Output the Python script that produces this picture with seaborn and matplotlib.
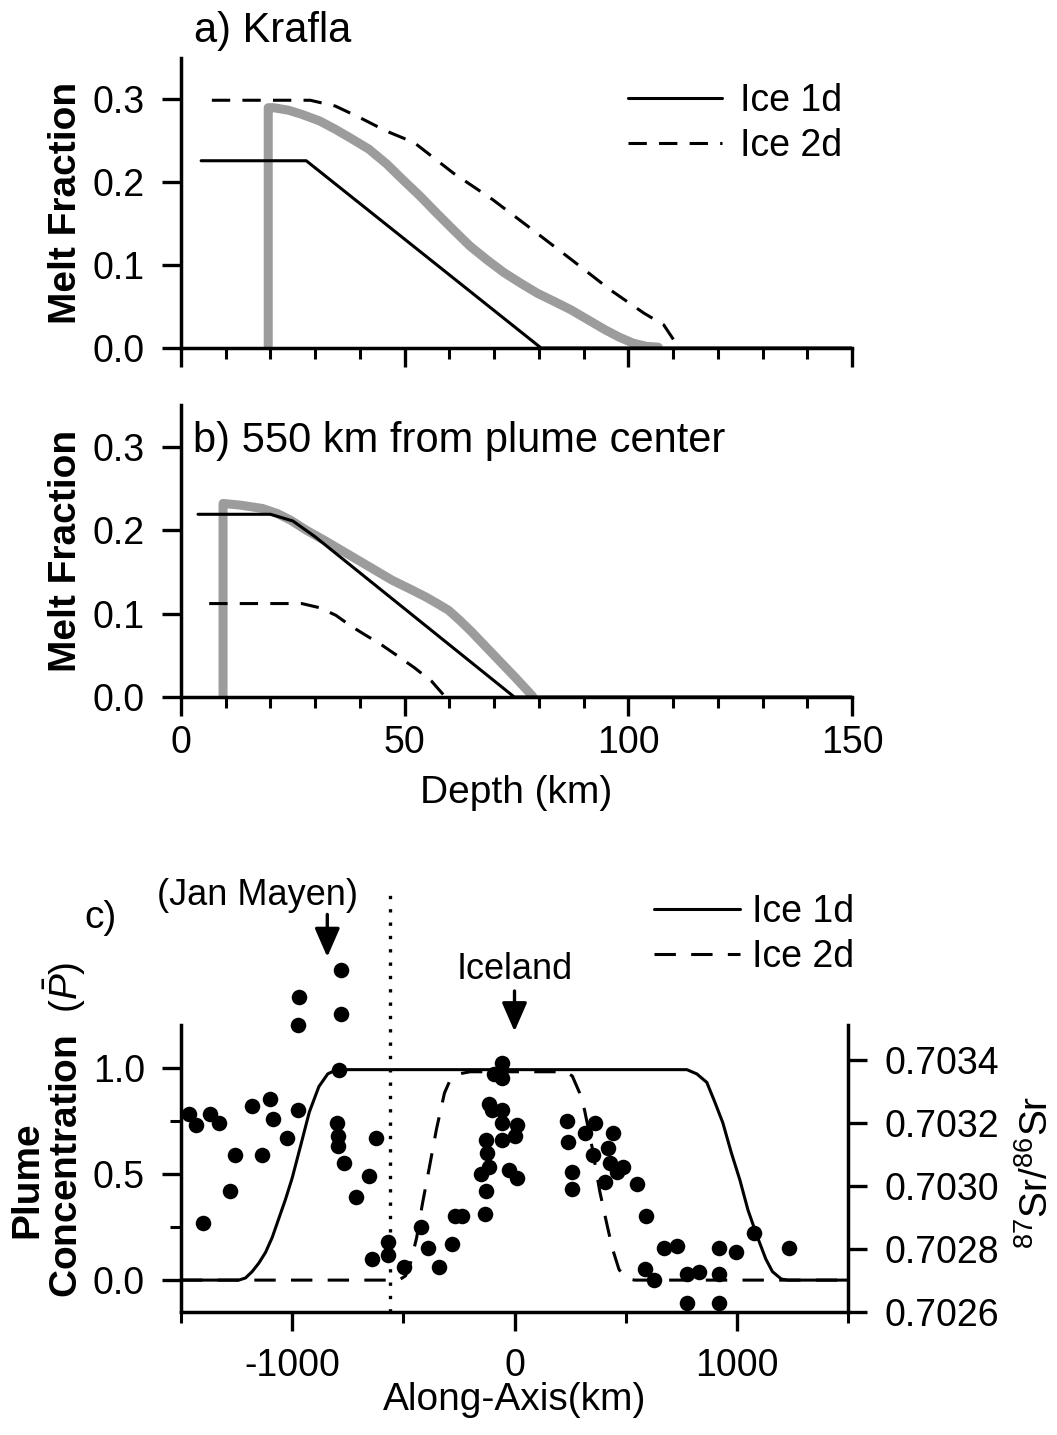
import numpy as np
import pandas as pd
import matplotlib
matplotlib.use("Agg")
import matplotlib.pyplot as plt
import seaborn as sns
from matplotlib.ticker import MultipleLocator, FixedLocator, FormatStrFormatter

# ---------------- data ----------------
# Panel a) Krafla : melt fraction vs depth (km)
a_ice1d_depth = [4.5, 28.0, 80.5, 150.0]
a_ice1d_melt = [0.226, 0.226, 0.0, 0.0]
a_ice2d_depth = [6.9, 28.9, 34.5, 40.0, 45.8, 52.1, 60.9, 69.7, 78.5, 87.2, 96.0, 103.5, 107.9, 111.1]
a_ice2d_melt = [0.299, 0.299, 0.292, 0.278, 0.262, 0.248, 0.211, 0.179, 0.143, 0.107, 0.070, 0.042, 0.028, 0.002]
a_gray_depth = [19.5, 19.5, 20.7, 24.0, 27.0, 31.0, 34.5, 38.0, 42.0, 46.0, 49.6, 53.5, 57.1, 61.0,
                64.6, 68.5, 72.2, 76.0, 79.7, 83.5, 87.2, 91.0, 94.8, 98.0, 101.0, 104.0, 106.7]
a_gray_melt = [0.0, 0.290, 0.290, 0.287, 0.282, 0.274, 0.264, 0.253, 0.240, 0.222, 0.203, 0.183,
               0.163, 0.142, 0.123, 0.106, 0.091, 0.078, 0.066, 0.056, 0.046, 0.034, 0.022, 0.013,
               0.006, 0.002, 0.001]

# Panel b) 550 km from plume center
b_ice1d_depth = [3.8, 20.0, 25.0, 30.0, 74.5, 150.0]
b_ice1d_melt = [0.219, 0.219, 0.211, 0.192, 0.0, 0.0]
b_ice2d_depth = [6.3, 27.0, 31.0, 34.6, 38.0, 41.0, 44.7, 48.5, 52.2, 56.0, 59.1]
b_ice2d_melt = [0.112, 0.112, 0.107, 0.098, 0.085, 0.075, 0.063, 0.049, 0.035, 0.019, 0.0]
b_gray_depth = [9.4, 9.4, 13.2, 18.2, 21.5, 24.5, 28.0, 32.0, 35.8, 39.6, 43.4, 47.2, 51.0, 54.7,
                57.3, 59.8, 62.3, 64.8, 67.3, 69.8, 72.3, 74.8, 76.7, 78.6]
b_gray_melt = [0.0, 0.232, 0.230, 0.226, 0.220, 0.212, 0.200, 0.188, 0.176, 0.164, 0.152, 0.140,
               0.130, 0.120, 0.112, 0.104, 0.092, 0.079, 0.065, 0.051, 0.037, 0.023, 0.012, 0.001]

# Panel c) plume concentration along axis (km)
c_ice1d_axis = [-1500, -1240, -1210, -1180, -1150, -1120, -1090, -1060, -1030, -1000, -960, -923,
                -880, -840, -800, 775, 820, 865, 900, 937, 975, 1014, 1050, 1090, 1130, 1160,
                1200, 1230, 1500]
c_ice1d_conc = [0.0, 0.0, 0.01, 0.04, 0.08, 0.13, 0.20, 0.29, 0.38, 0.48, 0.64, 0.79,
                0.91, 0.97, 0.99, 0.99, 0.97, 0.93, 0.84, 0.74, 0.60, 0.47, 0.33, 0.21, 0.10, 0.04,
                0.005, 0.0, 0.0]
c_ice2d_axis = [-1500, -520, -490, -468, -440, -414, -383, -351, -315, -290, -250, -200,
                230, 260, 293, 315, 350, 383, 414, 440, 470, 500, 540, 1500]
c_ice2d_conc = [0.0, 0.0, 0.02, 0.08, 0.20, 0.36, 0.53, 0.71, 0.88, 0.94, 0.97, 0.98,
                0.98, 0.96, 0.88, 0.80, 0.62, 0.42, 0.27, 0.15, 0.05, 0.01, 0.0, 0.0]

# 87Sr/86Sr samples expressed on the plume-concentration scale
sr_axis = [-1464, -1432, -1370, -1329, -1401, -1257, -1279, -1180, -1099, -1086, -1135, -1023,
           -972, -975, -970, -780, -782, -790, -800, -792, -792, -768, -625, -655, -712,
           -570, -570, -643, -498, -421, -389, -339, -281, -267, -235,
           -131, -126, -149, -113, -122, -126, -113, -99, -54, -54, 9, 0, -54, -23, 9, -54, -90, -54,
           234, 239, 257, 257, 315, 360, 441, 351, 419, 428, 459, 486, 405, 550, 593, 674, 733,
           588, 629, 778, 828, 919, 995, 919, 778, 919, 1077, 1235]
sr_conc = [0.78, 0.73, 0.78, 0.74, 0.27, 0.59, 0.42, 0.82, 0.85, 0.76, 0.59, 0.67,
           0.80, 1.20, 1.33, 1.46, 1.25, 0.99, 0.74, 0.68, 0.63, 0.55, 0.67, 0.49, 0.39,
           0.18, 0.12, 0.10, 0.06, 0.25, 0.15, 0.06, 0.17, 0.30, 0.30,
           0.31, 0.42, 0.50, 0.53, 0.60, 0.66, 0.83, 0.80, 0.80, 0.74, 0.73, 0.68, 0.66, 0.52, 0.48, 1.02, 0.97, 0.95,
           0.75, 0.65, 0.51, 0.43, 0.69, 0.74, 0.69, 0.59, 0.62, 0.55, 0.51, 0.53, 0.46, 0.45, 0.30, 0.15, 0.16,
           0.05, 0.00, 0.03, 0.04, 0.15, 0.13, 0.03, -0.11, -0.11, 0.22, 0.15]

sr_ticks = [0.7026, 0.7028, 0.7030, 0.7032, 0.7034]
depth_ticks = [0, 50, 100, 150]
axis_ticks = [-1000, 0, 1000]
dotted_axis = -560
jan_mayen_axis = -842
iceland_axis = 0

# ---------------- style ----------------
sns.set_theme(style="ticks")
plt.rcParams["font.family"] = ["Liberation Sans", "DejaVu Sans"]
plt.rcParams["mathtext.fontset"] = "custom"
plt.rcParams["mathtext.rm"] = "Liberation Sans"
plt.rcParams["mathtext.it"] = "Liberation Sans:italic"
plt.rcParams["axes.linewidth"] = 2.5
plt.rcParams["axes.unicode_minus"] = False
for k in ["text.color", "axes.labelcolor", "xtick.color", "ytick.color",
          "xtick.labelcolor", "ytick.labelcolor", "axes.edgecolor"]:
    plt.rcParams[k] = "black"

W, H = 1057, 1435
fig = plt.figure(figsize=(W / 100, H / 100), dpi=100)


def fx(px):
    return px / W


def fy(py):
    return 1 - py / H


def rect(l, t, r, b):
    return [fx(l), fy(b), fx(r) - fx(l), (b - t) / H]


ax_a = fig.add_axes(rect(181, 58, 852, 348))
ax_b = fig.add_axes(rect(181, 405, 852, 697))
ax_c = fig.add_axes(rect(181, 1025, 848, 1312))

LW = 2.2
DASH = (0, (6, 4))
GRAY = "#9c9c9c"
TICKFS = 27


def draw_melt(ax, d1, m1, d2, m2, dg, mg):
    sns.lineplot(x=dg, y=mg, ax=ax, color=GRAY, lw=6.5, sort=False, estimator=None, zorder=2)
    sns.lineplot(x=d1, y=m1, ax=ax, color="black", lw=LW, sort=False, estimator=None,
                 label="Ice 1d", zorder=3)
    sns.lineplot(x=d2, y=m2, ax=ax, color="black", lw=LW, sort=False, estimator=None,
                 linestyle=DASH, label="Ice 2d", zorder=3)
    ax.set_xlim(0, 150)
    ax.set_ylim(0, 0.35)
    ax.xaxis.set_major_locator(FixedLocator(depth_ticks))
    ax.xaxis.set_minor_locator(MultipleLocator(10))
    ax.yaxis.set_major_locator(FixedLocator([0.0, 0.1, 0.2, 0.3]))
    ax.yaxis.set_major_formatter(FormatStrFormatter("%.1f"))
    ax.tick_params(axis="both", which="major", direction="out", length=14, width=2.4,
                   labelsize=TICKFS, color="black")
    ax.tick_params(axis="x", which="minor", direction="out", length=8, width=2.2)
    ax.tick_params(axis="y", which="major", pad=12)
    for s in ["top", "right"]:
        ax.spines[s].set_visible(False)
    ax.set_ylabel("Melt Fraction", fontsize=28, fontweight="bold", va="center")
    ax.yaxis.set_label_coords((66 - 181) / 671, 0.5)
    ax.set_xlabel("")
    if ax.get_legend() is not None:
        ax.get_legend().remove()


draw_melt(ax_a, a_ice1d_depth, a_ice1d_melt, a_ice2d_depth, a_ice2d_melt, a_gray_depth, a_gray_melt)
draw_melt(ax_b, b_ice1d_depth, b_ice1d_melt, b_ice2d_depth, b_ice2d_melt, b_gray_depth, b_gray_melt)

ax_a.tick_params(axis="x", which="major", labelbottom=False)
ax_b.tick_params(axis="x", which="major", pad=6)
ax_b.set_xlabel("Depth (km)", fontsize=28)
ax_b.xaxis.set_label_coords(0.5, (697 - 775) / 292)

# legend of panel a
ax_a.legend(handles=[ax_a.lines[1], ax_a.lines[2]], labels=["Ice 1d", "Ice 2d"], loc="upper left",
            bbox_to_anchor=(fx(628), fy(83)), bbox_transform=fig.transFigure,
            frameon=False, fontsize=27, handlelength=2.5, handletextpad=0.5,
            labelspacing=0.25, borderpad=0, borderaxespad=0)

fig.text(fx(194), fy(31), "a) Krafla", fontsize=30, ha="left", va="center")
fig.text(fx(193), fy(441), "b) 550 km from plume center", fontsize=30, ha="left", va="center")

# ---------------- panel c ----------------
sns.lineplot(x=c_ice1d_axis, y=c_ice1d_conc, ax=ax_c, color="black", lw=LW, sort=False,
             estimator=None, label="Ice 1d", zorder=3)
sns.lineplot(x=c_ice2d_axis, y=c_ice2d_conc, ax=ax_c, color="black", lw=LW, sort=False,
             estimator=None, linestyle=(0, (7, 5)), label="Ice 2d", zorder=3)
df_sr = pd.DataFrame({"axis": sr_axis, "conc": sr_conc})
sns.scatterplot(data=df_sr, x="axis", y="conc", ax=ax_c, color="black", s=125, linewidth=0,
                clip_on=False, zorder=5, legend=False)
ax_c.axvline(dotted_axis, ymin=0, ymax=(1.81 + 0.15) / 1.35, color="black", lw=2.4,
             linestyle=(0, (1, 3)), clip_on=False, zorder=2)

ax_c.set_xlim(-1500, 1500)
ax_c.set_ylim(-0.15, 1.2)
ax_c.xaxis.set_major_locator(FixedLocator(axis_ticks))
ax_c.xaxis.set_minor_locator(FixedLocator([-1500, -500, 500, 1500]))
ax_c.yaxis.set_major_locator(FixedLocator([0.0, 0.5, 1.0]))
ax_c.yaxis.set_minor_locator(FixedLocator([0.25, 0.75]))
ax_c.yaxis.set_major_formatter(FormatStrFormatter("%.1f"))
ax_c.tick_params(axis="both", which="major", direction="out", length=14, width=2.4,
                 labelsize=TICKFS, color="black")
ax_c.tick_params(axis="both", which="minor", direction="out", length=8, width=2.2)
ax_c.tick_params(axis="y", which="major", pad=12)
ax_c.tick_params(axis="x", which="major", pad=12)
ax_c.spines["top"].set_visible(False)
ax_c.spines["right"].set_visible(False)
ax_c.set_xlabel("Along-Axis(km)", fontsize=28)
ax_c.xaxis.set_label_coords(0.5, (1312 - 1382) / 287)
ax_c.set_ylabel(r"Concentration  $(\bar{P})$", fontsize=28, fontweight="bold", va="center")
ax_c.yaxis.set_label_coords((65 - 181) / 667, (1312 - 1130) / 287)
fig.text(fx(27), fy(1180), "Plume", rotation=90, fontsize=28, fontweight="bold",
         ha="center", va="center")
if ax_c.get_legend() is not None:
    ax_c.get_legend().remove()

ax_r = ax_c.twinx()
ax_r.set_ylim(0.7026, 0.703511)
ax_r.yaxis.set_major_locator(FixedLocator(sr_ticks))
ax_r.yaxis.set_major_formatter(FormatStrFormatter("%.4f"))
ax_r.tick_params(axis="y", which="major", direction="out", length=14, width=2.4,
                 labelsize=TICKFS, pad=12, color="black")
for s in ["top", "left", "bottom"]:
    ax_r.spines[s].set_visible(False)
ax_r.grid(False)
ax_r.set_ylabel(r"$^{87}$Sr/$^{86}$Sr", fontsize=28, rotation=90, va="center")
ax_r.yaxis.set_label_coords((1037 - 181) / 667, (1312 - 1172) / 287)

ax_c.legend(handles=[ax_c.lines[0], ax_c.lines[1]], labels=["Ice 1d", "Ice 2d"],
            loc="upper left", bbox_to_anchor=(fx(654), fy(894)), bbox_transform=fig.transFigure,
            frameon=False, fontsize=27, handlelength=2.3, handletextpad=0.3,
            labelspacing=0.25, borderpad=0, borderaxespad=0)

# annotations
ax_c.text(-1158, 1.81, "(Jan Mayen)", fontsize=26, ha="center", va="center", clip_on=False)
ax_c.annotate("", xy=(jan_mayen_axis, 1.52), xytext=(jan_mayen_axis, 1.72),
              arrowprops=dict(arrowstyle="-|>,head_length=0.8,head_width=0.35", lw=2.4,
                              color="black", shrinkA=0, shrinkB=0, mutation_scale=22),
              annotation_clip=False)
ax_c.text(iceland_axis, 1.46, "Iceland", fontsize=26, ha="center", va="center", clip_on=False)
ax_c.annotate("", xy=(iceland_axis, 1.17), xytext=(iceland_axis, 1.36),
              arrowprops=dict(arrowstyle="-|>,head_length=0.8,head_width=0.35", lw=2.4,
                              color="black", shrinkA=0, shrinkB=0, mutation_scale=22),
              annotation_clip=False)
fig.text(fx(100), fy(918), "c)", fontsize=28, ha="center", va="center")

for ax in (ax_a, ax_b, ax_c, ax_r):
    ax.set_facecolor("none")
    ax.grid(False)

fig.savefig("out.png", dpi=100, facecolor="white")
